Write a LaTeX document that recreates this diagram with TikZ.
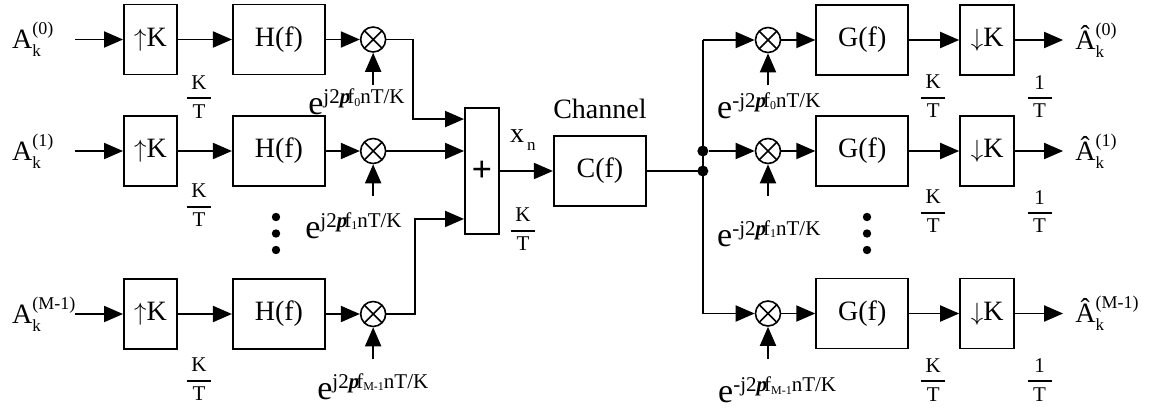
\documentclass[tikz,border=0pt]{standalone}
\usepackage{fontspec}
\setmainfont{Liberation Serif}
\usetikzlibrary{arrows.meta,positioning,calc}
\tikzset{
    ofdmbox/.style={draw, line width=1.9pt, inner sep=0pt, minimum height=70pt, font=\fontsize{28}{30}\selectfont},
    ratebox/.style={ofdmbox, minimum width=53pt},
    filterbox/.style={ofdmbox, minimum width=92pt},
    mixer/.style={circle, draw, line width=1.6pt, minimum size=25pt, inner sep=0pt,
        path picture={\draw[line width=1.6pt] (path picture bounding box.north west) -- (path picture bounding box.south east)
            (path picture bounding box.north east) -- (path picture bounding box.south west);}},
    sigarrow/.style={line width=1.9pt, -{Triangle[length=19pt, width=16pt]}},
    sigline/.style={line width=1.9pt},
    symlabel/.style={font=\fontsize{28}{30}\selectfont, inner xsep=12pt, inner ysep=0pt},
    textlabel/.style={font=\fontsize{28}{30}\selectfont, inner sep=2pt},
    ratelabel/.style={font=\fontsize{21}{24}\selectfont, inner sep=0pt, anchor=north},
    phaselabel/.style={inner sep=0pt, anchor=north west},
    junction/.style={circle, fill, minimum size=11pt, inner sep=0pt}
}
\newcommand\symb[3]{#1\rlap{\raisebox{-8pt}{\fontsize{17}{18}\selectfont #2}}\raisebox{14pt}{\fontsize{18}{20}\selectfont #3}}
\newcommand\phasor[2]{{\fontsize{34}{36}\selectfont e}\raisebox{11pt}{\fontsize{21}{22}\selectfont #1j2\textbf{\textit{p}}\kern-3pt f\raisebox{-2.5pt}{\fontsize{12}{12}\selectfont #2}nT/K}}
\newcommand\rate[2]{$\displaystyle{\hbox to 24pt{\hss#1\hss}\above 1.8pt\hbox to 24pt{\hss#2\hss}}$}

\begin{document}
\begin{tikzpicture}[x=1pt, y=-1pt]
    \useasboundingbox (0,0) rectangle (1149,413);

    % transmitter branches
    \node[symlabel, anchor=west] (in1) at (0,39.5) {\symb{A}{k}{(0)}};
    \node[symlabel, anchor=west] (in2) at (0,151) {\symb{A}{k}{(1)}};
    \node[symlabel, anchor=west] (in3) at (0,314) {\symb{A}{k}{(M-1)}};
    \coordinate (src1) at (75,39.5);
    \coordinate (src2) at (75,151);
    \coordinate (src3) at (75,314);

    \node[ratebox] (up1) at (150.5,39.5) {$\uparrow$K};
    \node[ratebox] (up2) at (150.5,151) {$\uparrow$K};
    \node[ratebox] (up3) at (150.5,314) {$\uparrow$K};
    \node[filterbox, right=54pt of up1] (h1) {H(f)};
    \node[filterbox, right=54pt of up2] (h2) {H(f)};
    \node[filterbox, right=54pt of up3] (h3) {H(f)};
    \node[mixer, right=34pt of h1] (mix1) {};
    \node[mixer, right=34pt of h2] (mix2) {};
    \node[mixer, right=34pt of h3] (mix3) {};
    \coordinate[below=32pt of mix1] (t1);
    \coordinate[below=32pt of mix2] (t2);
    \coordinate[below=32pt of mix3] (t3);
    \node[phaselabel] (ph1) at ($(t1)+(-65,4)$) {\phasor{}{0}};
    \node[phaselabel] (ph2) at ($(t2)+(-68,16)$) {\phasor{}{1}};
    \node[phaselabel] (ph3) at ($(t3)+(-56,14)$) {\phasor{}{M-1}};

    \node[ratelabel] (kt1) at ($(up1.south east)+(21,0)$) {\rate{K}{T}};
    \node[ratelabel] (kt2) at ($(up2.south east)+(21,-3)$) {\rate{K}{T}};
    \node[ratelabel] (kt3) at ($(up3.south east)+(21,8)$) {\rate{K}{T}};

    \fill (276,217) circle (4.2pt) (276,233.5) circle (4.2pt) (276,250) circle (4.2pt);

    % summation and channel
    \node[draw, line width=1.9pt, minimum width=34pt, minimum height=126pt, inner sep=0pt,
        font=\fontsize{36}{38}\selectfont\bfseries] (sum) at (482,171) {+};
    \node[ofdmbox, minimum width=92pt, right=53pt of sum] (chan) {C(f)};
    \node[textlabel, above=14pt of chan] (chanlbl) {Channel};
    \node[textlabel, inner sep=0pt] (xn) at ($(sum.east)+(23,-31)$) {x\kern3pt\raisebox{-8pt}{\fontsize{17}{18}\selectfont n}};
    \node[ratelabel] (kts) at ($(sum.east)+(23,37)$) {\rate{K}{T}};
    \coordinate[right=56pt of chan] (split);

    % receiver branches
    \node[mixer] (dmix1) at (768,40) {};
    \node[mixer] (dmix2) at (768,151) {};
    \node[mixer] (dmix3) at (768,313.5) {};
    \node[filterbox, right=34pt of dmix1] (g1) {G(f)};
    \node[filterbox, right=34pt of dmix2] (g2) {G(f)};
    \node[filterbox, right=34pt of dmix3] (g3) {G(f)};
    \node[ratebox, minimum width=54pt, right=50pt of g1] (down1) {$\downarrow$K};
    \node[ratebox, minimum width=54pt, right=50pt of g2] (down2) {$\downarrow$K};
    \node[ratebox, minimum width=54pt, right=50pt of g3] (down3) {$\downarrow$K};
    \node[symlabel, right=48pt of down1] (out1) {\symb{Â}{k}{(0)}};
    \node[symlabel, right=48pt of down2] (out2) {\symb{Â}{k}{(1)}};
    \node[symlabel, right=48pt of down3] (out3) {\symb{Â}{k}{(M-1)}};
    \coordinate[below=32pt of dmix1] (u1);
    \coordinate[below=32pt of dmix2] (u2);
    \coordinate[below=32pt of dmix3] (u3);
    \node[phaselabel] (dph1) at ($(u1)+(-51,7)$) {\phasor{-}{0}};
    \node[phaselabel] (dph2) at ($(u2)+(-51,24)$) {\phasor{-}{1}};
    \node[phaselabel] (dph3) at ($(u3)+(-50,18)$) {\phasor{-}{M-1}};

    \node[ratelabel] (gkt1) at ($(g1.south east)+(24,-1)$) {\rate{K}{T}};
    \node[ratelabel] (gkt2) at ($(g2.south east)+(24,3)$) {\rate{K}{T}};
    \node[ratelabel] (gkt3) at ($(g3.south east)+(24,9)$) {\rate{K}{T}};
    \node[ratelabel] (ot1) at ($(down1.south east)+(24.5,-1)$) {\rate{1}{T}};
    \node[ratelabel] (ot2) at ($(down2.south east)+(24.5,3)$) {\rate{1}{T}};
    \node[ratelabel] (ot3) at ($(down3.south east)+(24.5,9)$) {\rate{1}{T}};

    \fill (867,217) circle (4.2pt) (867,233.5) circle (4.2pt) (867,250) circle (4.2pt);

    % connections, transmitter
    \draw[sigarrow] (src1) -- (up1);
    \draw[sigarrow] (src2) -- (up2);
    \draw[sigarrow] (src3) -- (up3);
    \draw[sigarrow] (up1) -- (h1);
    \draw[sigarrow] (up2) -- (h2);
    \draw[sigarrow] (up3) -- (h3);
    \draw[sigarrow] (h1) -- (mix1);
    \draw[sigarrow] (h2) -- (mix2);
    \draw[sigarrow] (h3) -- (mix3);
    \draw[sigarrow] (t1) -- (mix1);
    \draw[sigarrow] (t2) -- (mix2);
    \draw[sigarrow] (t3) -- (mix3);
    \draw[sigarrow] (mix1.east) -- ++(26.5,0) |- ($(sum.north west)+(0,12)$);
    \draw[sigarrow] (mix2.east) -- (mix2 -| sum.west);
    \draw[sigarrow] (mix3.east) -- ++(28.5,0) |- ($(sum.south west)+(0,-16)$);
    \draw[sigarrow] (sum) -- (chan);

    % connections, receiver
    \draw[sigline] (chan) -- (split);
    \draw[sigline] (split |- dmix1) -- (split |- dmix3);
    \node[junction] (jn1) at (split) {};
    \node[junction] (jn2) at (split |- dmix2) {};
    \draw[sigarrow] (split |- dmix1) -- (dmix1);
    \draw[sigarrow] (jn2) -- (dmix2);
    \draw[sigarrow] (split |- dmix3) -- (dmix3);
    \draw[sigarrow] (u1) -- (dmix1);
    \draw[sigarrow] (u2) -- (dmix2);
    \draw[sigarrow] (u3) -- (dmix3);
    \draw[sigarrow] (dmix1) -- (g1);
    \draw[sigarrow] (dmix2) -- (g2);
    \draw[sigarrow] (dmix3) -- (g3);
    \draw[sigarrow] (g1) -- (down1);
    \draw[sigarrow] (g2) -- (down2);
    \draw[sigarrow] (g3) -- (down3);
    \draw[sigarrow] (down1) -- (out1);
    \draw[sigarrow] (down2) -- (out2);
    \draw[sigarrow] (down3) -- (out3);
\end{tikzpicture}
\end{document}
